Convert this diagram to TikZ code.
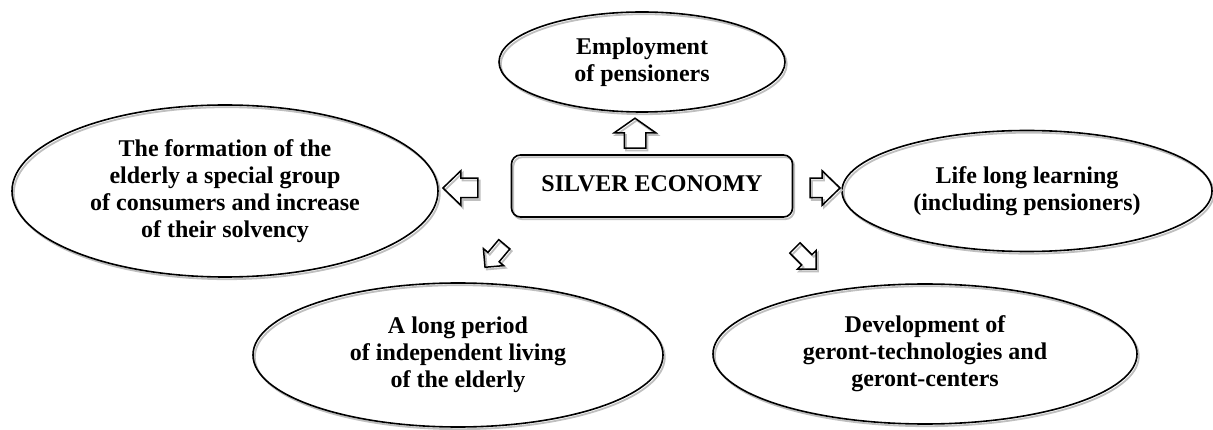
\documentclass[tikz,border=0pt]{standalone}
\usepackage{fontspec}
\setmainfont{Liberation Serif}
\usetikzlibrary{shapes.geometric,shapes.arrows}

\tikzset{
  % grey offset outline drawn beneath every shape
  echo/.style={preaction={draw=gray!50, line width=1.8pt,
      transform canvas={shift={(1.8pt,-2.2pt)}}}},
  topic/.style={ellipse, draw, echo, line width=1.6pt, inner sep=0pt,
      outer sep=0pt, align=center,
      font=\bfseries\fontsize{24}{27}\selectfont},
  hub/.style={rectangle, rounded corners=9pt, draw, echo, line width=1.6pt,
      inner sep=0pt, outer sep=0pt,
      font=\bfseries\fontsize{24}{27}\selectfont},
  blockarrow/.style={single arrow, draw, echo, line width=1.5pt,
      inner xsep=0pt, outer sep=0pt}
}

\begin{document}
\begin{tikzpicture}[x=1pt, y=-1pt]
  \useasboundingbox (0,0) rectangle (1213,430);

  % central box
  \node[hub, minimum width=281pt, minimum height=62pt] (hub) at (652,186)
    {\raisebox{4pt}{SILVER ECONOMY}};

  % surrounding topics
  \node[topic, minimum width=286pt, minimum height=100pt] (jobs) at (642,62)
    {Employment\\of pensioners};
  \node[topic, minimum width=426pt, minimum height=172pt] (market) at (225,191)
    {The formation of the\\elderly a special group\\of consumers and increase\\of their solvency};
  \node[topic, minimum width=370pt, minimum height=121pt] (learn) at (1027,191)
    {Life long learning\\(including pensioners)};
  \node[topic, minimum width=410pt, minimum height=144pt] (living) at (458,355)
    {A long period\\of independent living\\of the elderly};
  \node[topic, minimum width=424pt, minimum height=140pt] (geront) at (925,354)
    {Development of\\geront-technologies and\\geront-centers};

  % block arrows pointing from the hub to each topic
  \node[blockarrow, inner ysep=10pt, single arrow head extend=10pt,
        single arrow tip angle=110, minimum height=30pt, rotate=90]
        (toJobs) at (635,137) {};
  \node[blockarrow, inner ysep=9pt, single arrow head extend=7.5pt,
        single arrow tip angle=88, minimum height=35pt, rotate=180]
        (toMarket) at (465.5,188) {};
  \node[blockarrow, inner ysep=9pt, single arrow head extend=7.5pt,
        single arrow tip angle=88, minimum height=30pt, rotate=0]
        (toLearn) at (820,188) {};
  \node[blockarrow, inner ysep=6.5pt, single arrow head extend=6pt,
        single arrow tip angle=90, minimum height=30pt, rotate=-130]
        (toLiving) at (497,253) {};
  \node[blockarrow, inner ysep=6.5pt, single arrow head extend=6pt,
        single arrow tip angle=90, minimum height=30pt, rotate=-45]
        (toGeront) at (803,256) {};
\end{tikzpicture}
\end{document}
